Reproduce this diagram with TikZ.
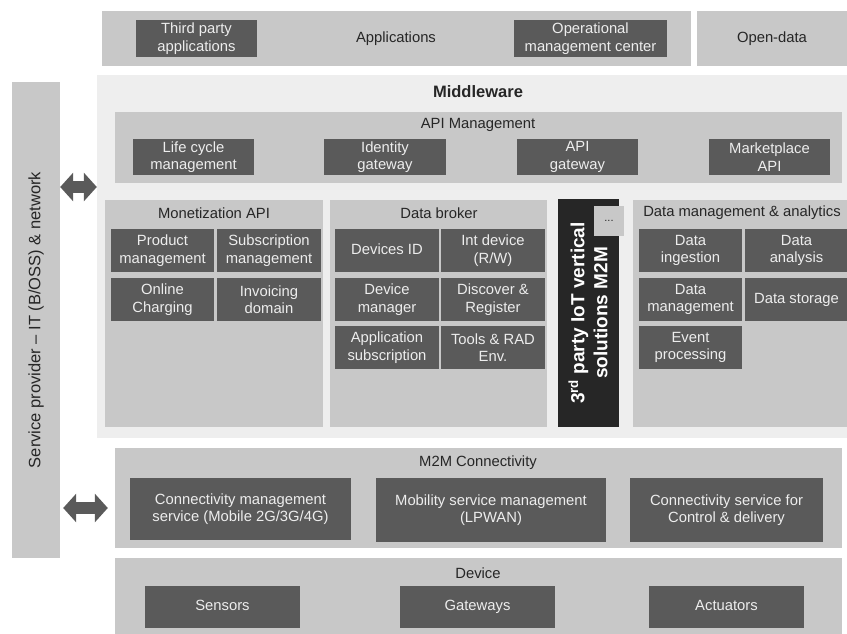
\documentclass[tikz,border=0pt]{standalone}
\usepackage{fontspec}
\setmainfont{Liberation Sans}
\usetikzlibrary{arrows.meta, positioning}
\definecolor{midgray}{HTML}{C8C8C8}
\definecolor{darkgray}{HTML}{5A5A5A}
\definecolor{lightbg}{HTML}{EEEEEE}
\definecolor{nearblack}{HTML}{262626}
\definecolor{softwhite}{HTML}{EDEDED}
\newcommand{\boxfont}{\fontsize{14.8}{17.5}\selectfont}
\tikzset{
    layer/.style={rectangle, fill=midgray, inner sep=0pt, text=black!85, font=\boxfont},
    tile/.style={rectangle, fill=darkgray, text=softwhite, align=center, inner sep=0pt, font=\boxfont},
    oneline/.style={text height=0.72em, text depth=0pt},
    title/.style={text=black!85, font=\boxfont, inner sep=0pt},
    fatarrow/.style={draw=darkgray, line width=12pt, {Triangle[width=28pt,length=13pt]}-{Triangle[width=28pt,length=13pt]}}
}

\begin{document}
\begin{tikzpicture}[x=1pt, y=-1pt]
    \useasboundingbox (0,0) rectangle (847,634);

    % top row
    \node (apps) [layer, minimum width=589pt, minimum height=55pt] at (396,38.5) {Applications};
    \node (opendata) [layer, minimum width=150pt, minimum height=55pt] at (772,38.5) {Open-data};
    \node (thirdapp) [tile, minimum width=121pt, minimum height=37pt] at (196.5,38.5) {Third party\\applications};
    \node (opcenter) [tile, minimum width=153pt, minimum height=37pt] at (590.5,38.5) {Operational\\management center};

    % service provider bar
    \node (service) [layer, rotate=90, minimum width=476pt, minimum height=48pt, font=\fontsize{16.5}{20}\selectfont] at (36,320) {Service provider -- IT (B/OSS) \& network};

    % middleware
    \node (middleware) [rectangle, fill=lightbg, minimum width=750pt, minimum height=363pt] at (472,256.5) {};
    \node (mwtitle) [title, font=\fontsize{16.5}{20}\selectfont\bfseries] at (478,92) {Middleware};

    \node (apimgmt) [layer, minimum width=727pt, minimum height=71pt] at (478.5,147.5) {};
    \node (apititle) [title] at (478,125) {API Management};
    \node (lifecycle) [tile, minimum width=121pt, minimum height=36pt] at (193.5,157) {Life cycle\\management};
    \node (identity) [tile, minimum width=122pt, minimum height=36pt] at (385,157) {Identity\\gateway};
    \node (apigw) [tile, minimum width=121pt, minimum height=36pt] at (577.5,157) {API\\gateway};
    \node (market) [tile, minimum width=121pt, minimum height=36pt] at (769.5,157) {Marketplace\\API};

    % monetization
    \node (monet) [layer, minimum width=218pt, minimum height=227pt] at (214,313.5) {};
    \node (monettitle) [title] at (214,213) {Monetization API};
    \node (product) [tile, minimum width=103pt, minimum height=43pt] at (162.5,250.5) {Product\\management};
    \node (subscr) [tile, minimum width=104pt, minimum height=43pt] at (269,250.5) {Subscription\\management};
    \node (charging) [tile, minimum width=103pt, minimum height=43pt] at (162.5,299.5) {Online\\Charging};
    \node (invoicing) [tile, minimum width=104pt, minimum height=43pt] at (269,299.5) {Invoicing\\domain};

    % data broker
    \node (broker) [layer, minimum width=217pt, minimum height=227pt] at (438.5,313.5) {};
    \node (brokertitle) [title] at (439,213) {Data broker};
    \node (devid) [tile, oneline, minimum width=104pt, minimum height=43pt] at (387,250.5) {Devices ID};
    \node (intdev) [tile, minimum width=104pt, minimum height=43pt] at (493,250.5) {Int device\\(R/W)};
    \node (devmgr) [tile, minimum width=104pt, minimum height=43pt] at (387,299.5) {Device\\manager};
    \node (discover) [tile, minimum width=104pt, minimum height=43pt] at (493,299.5) {Discover \&\\Register};
    \node (appsub) [tile, minimum width=104pt, minimum height=43pt] at (387,347.5) {Application\\subscription};
    \node (tools) [tile, minimum width=104pt, minimum height=43pt] at (493,347.5) {Tools \& RAD\\Env.};

    % vertical solutions
    \node (vertical) [tile, fill=nearblack, text=white, rotate=90, minimum width=228pt, minimum height=61pt,
        font=\fontsize{19}{23}\selectfont\bfseries] at (588,313) {3\textsuperscript{rd} party IoT vertical\\solutions M2M};
    \node (dots) [layer, minimum width=30pt, minimum height=30pt, font=\fontsize{11}{13}\selectfont] at (609,221) {...};

    % data management
    \node (dma) [layer, minimum width=216pt, minimum height=227pt] at (741,313.5) {};
    \node (dmatitle) [title] at (742,213) {Data management \& analytics};
    \node (ingest) [tile, minimum width=103pt, minimum height=43pt] at (690.5,250.5) {Data\\ingestion};
    \node (analysis) [tile, minimum width=103pt, minimum height=43pt] at (796.5,250.5) {Data\\analysis};
    \node (datamgmt) [tile, minimum width=103pt, minimum height=43pt] at (690.5,299.5) {Data\\management};
    \node (storage) [tile, oneline, minimum width=103pt, minimum height=43pt] at (796.5,299.5) {Data storage};
    \node (event) [tile, minimum width=103pt, minimum height=43pt] at (690.5,347.5) {Event\\processing};

    % connectivity
    \node (m2m) [layer, minimum width=727pt, minimum height=100pt] at (478.5,498) {};
    \node (m2mtitle) [title] at (478,463) {M2M Connectivity};
    \node (connmgmt) [tile, minimum width=221pt, minimum height=62pt] at (240.5,509) {Connectivity management\\service (Mobile 2G/3G/4G)};
    \node (mobility) [tile, minimum width=230pt, minimum height=64pt] at (491,510) {Mobility service management\\(LPWAN)};
    \node (connsvc) [tile, minimum width=193pt, minimum height=64pt] at (726.5,510) {Connectivity service for\\Control \& delivery};

    % device
    \node (device) [layer, minimum width=727pt, minimum height=82pt] at (478.5,599) {};
    \node (devtitle) [title] at (478,573) {Device};
    \node (sensors) [tile, oneline, minimum width=155pt, minimum height=42pt] at (222.5,607) {Sensors};
    \node (gateways) [tile, oneline, minimum width=155pt, minimum height=42pt] at (477.5,607) {Gateways};
    \node (actuators) [tile, oneline, minimum width=155pt, minimum height=42pt] at (726.5,607) {Actuators};

    % exchange with the service provider
    \coordinate (uplink) at (0,187);
    \coordinate (downlink) at (0,508);
    \draw [fatarrow] (service.south |- uplink) -- (middleware.west |- uplink);
    \draw [fatarrow] ([xshift=3pt]service.south |- downlink) -- ([xshift=-7pt]m2m.west |- downlink);
\end{tikzpicture}
\end{document}
